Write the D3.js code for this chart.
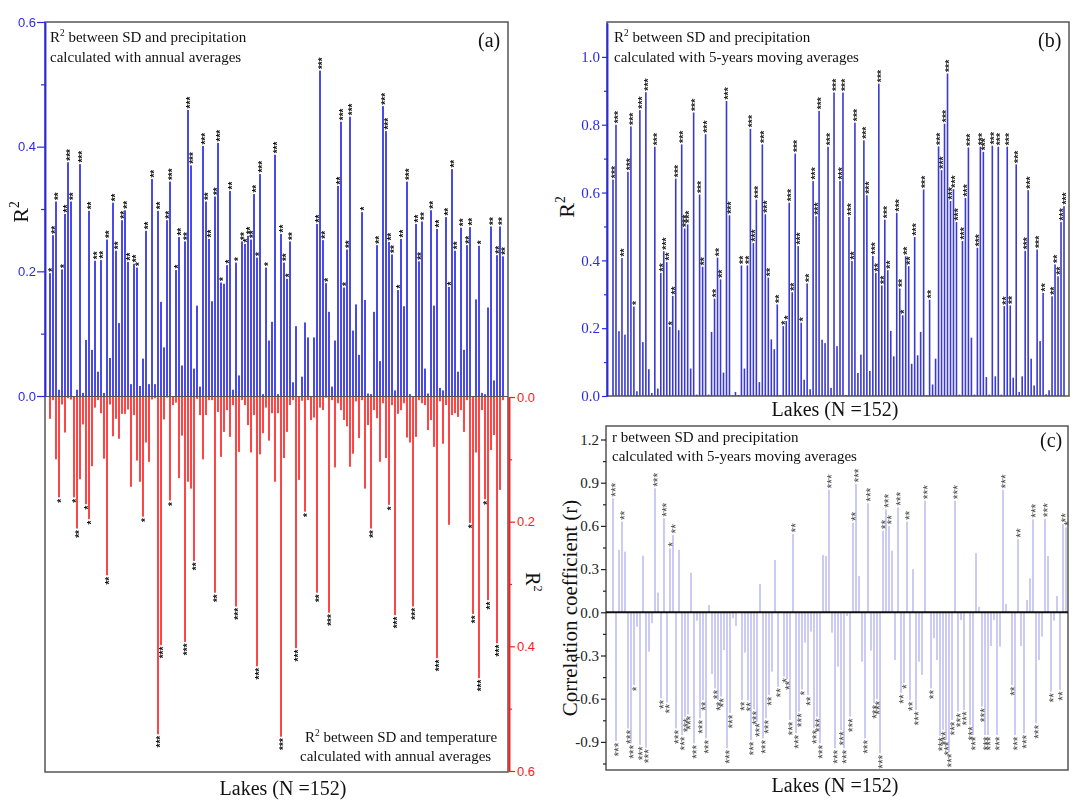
<!DOCTYPE html>
<html><head><meta charset="utf-8">
<script src="https://cdn.jsdelivr.net/npm/d3@7"></script>
<style>body{margin:0;background:#fff} .stars{opacity:0.99; will-change:transform}</style>
</head><body>
<svg id="chart" width="1083" height="804"></svg>
<script>
// ---------------- DATA ----------------
const lakeIds = d3.range(1, 153); // 152 lakes

// (a) top: R2 SD vs precipitation, annual averages
const precipAnnual = [
0.197,0.258,0.312,0.01,0.203,0.292,0.375,0.312,0,0.01,
0.372,0.005,0.09,0.297,0.074,0.217,0.039,0.218,0.005,0.251,
0.061,0.31,0.233,0.117,0.282,0.298,0.215,0.019,0.212,0.206,
0.016,0.06,0.265,0.019,0.348,0.019,0.297,0.151,0.078,0.282,
0.344,0,0.202,0.255,0.049,0.248,0.459,0.37,0.044,0.145,
0.015,0.401,0.312,0.252,0.152,0.32,0.406,0.182,0.18,0.21,
0.329,0.01,0.214,0.033,0.248,0.244,0.257,0.251,0.324,0.222,
0.356,0.003,0.206,0.089,0.119,0.387,0.003,0.26,0.214,0.188,
0.248,0.022,0.112,0,0.031,0.118,0.094,0,0.094,0.276,
0.522,0.25,0.181,0.135,0.015,0.089,0.337,0.44,0.174,0.235,
0.448,0.105,0.147,0.066,0.295,0.154,0.004,0.003,0.135,0.242,
0.056,0.465,0.425,0.247,0.227,0.009,0.17,0.252,0.144,0.344,
0.003,0,0.276,0.216,0.28,0.044,0.004,0.298,0.145,0.268,
0.013,0.009,0.287,0.175,0.364,0.233,0.039,0.27,0.074,0.242,
0.271,0,0.155,0.241,0.005,0.003,0.142,0.272,0.025,0.226,
0.272,0.224];
const precipAnnualSig = [
1,2,2,0,1,2,3,2,0,0, 3,0,0,2,0,2,0,2,0,2, 0,2,2,0,2,2,2,0,2,1,
0,0,2,0,2,0,2,0,0,2, 3,0,1,2,0,2,3,3,0,0, 0,3,2,2,0,2,3,1,0,1,
2,0,1,0,2,1,2,2,2,1, 3,0,1,0,0,3,0,2,2,1, 2,0,0,0,0,0,0,0,0,2,
3,2,1,0,0,0,2,3,1,2, 3,0,0,0,1,0,0,0,0,2, 0,3,3,2,2,0,1,2,0,3,
0,0,2,2,2,0,0,2,0,2, 0,0,2,1,2,2,0,2,0,2, 2,0,0,1,0,0,0,2,0,2,
2,2];

// (a) bottom: R2 SD vs temperature, annual averages
const tempAnnual = [
0.035,0.005,0.1,0.161,0.012,0.057,0.002,0.004,0.161,0.211,
0.132,0.044,0.172,0.196,0.111,0.017,0.005,0.026,0.099,0.286,
0.012,0.063,0.035,0.067,0.027,0.027,0.02,0.144,0.029,0.102,
0.136,0.192,0.073,0.104,0.004,0.002,0.541,0.398,0.036,0.001,
0.166,0.013,0.009,0.13,0.062,0.393,0.136,0.147,0.263,0.003,
0.029,0.1,0.029,0.005,0.005,0.314,0.024,0.096,0.056,0.021,
0.064,0.013,0.336,0.088,0.005,0.013,0.045,0.089,0.029,0.432,
0.092,0.058,0.017,0.07,0.026,0.136,0.026,0.545,0.098,0.056,
0.013,0.005,0.403,0.133,0.006,0.184,0.005,0.037,0.033,0.314,
0.017,0.021,0.001,0.346,0.005,0.113,0.01,0.021,0.037,0.047,
0.112,0.091,0.007,0.066,0.005,0.147,0.045,0.211,0.021,0.034,
0.104,0.01,0.098,0.173,0.013,0.35,0.027,0.021,0.01,0.065,
0.073,0.336,0.064,0.005,0.01,0.013,0.053,0.037,0.08,0.419,
0.007,0.075,0.013,0.205,0.029,0.026,0.032,0.021,0.056,0.005,
0.202,0.348,0.089,0.451,0.021,0.164,0.326,0.085,0.061,0.395,
0.149,0.005];
const tempAnnualSig = [
0,0,0,1,0,0,0,0,1,2, 0,0,1,1,0,0,0,0,0,2, 0,0,0,0,0,0,0,0,0,0,
0,1,0,0,0,0,3,3,0,0, 1,0,0,0,0,3,0,0,2,0, 0,0,0,0,0,2,0,0,0,0,
0,0,3,0,0,0,0,0,0,3, 0,0,0,0,0,0,0,3,0,0, 0,0,3,0,0,1,0,0,0,2,
0,0,0,3,0,0,0,0,0,0, 0,0,0,0,0,0,0,2,0,0, 0,0,0,1,0,3,0,0,0,0,
0,3,0,0,0,0,0,0,0,3, 0,0,0,0,0,0,0,0,0,0, 1,2,0,3,0,1,2,0,0,3,
0,0];

// (b) R2 SD vs precipitation, 5-year moving averages
const precipMoving = [
0.638,0.8,0.191,0.407,0.181,0.661,0.795,0.264,0.014,0.843,
0.159,0.896,0.079,0.009,0.735,0.022,0.363,0.427,0.395,0.204,
0.295,0.641,0.194,0.742,0.494,0.506,0.081,0.836,0.004,0.594,
0.381,0.772,0.004,0.189,0.287,0.408,0.344,0.069,0.87,0.533,
0.002,0.012,0.003,0.385,0.081,0.385,0.788,0.451,0.579,0.041,
0.742,0.536,0.349,0.167,0.138,0.27,0.003,0.206,0.221,0.57,
0.306,0.715,0.442,0.216,0.048,0.332,0.02,0.634,0.53,0.841,
0.166,0.156,0.735,0.024,0.895,0.147,0.634,0.895,0.003,0.528,
0.398,0.806,0.068,0.122,0.754,0.592,0.074,0.413,0.363,0.921,
0.326,0.52,0.371,0.192,0.117,0.54,0.317,0.238,0.412,0.383,
0.095,0.469,0.12,0.189,0.609,0.002,0.284,0.034,0.11,0.736,
0.666,0.803,0.951,0.575,0.61,0.513,0.004,0.457,0.584,0.733,
0.172,0.004,0.437,0.735,0.72,0.056,0.004,0.738,0.058,0.735,
0.004,0.265,0.735,0.267,0.054,0.683,0.012,0.058,0.428,0.607,
0.11,0.031,0.432,0.162,0.304,0.005,0.017,0.294,0.388,0.353,
0.513,0.56];
const precipMovingSig = [
3,3,0,2,0,3,3,1,0,3, 0,3,0,0,3,0,2,3,2,1, 2,3,0,3,3,3,0,3,0,3,
2,3,0,0,2,2,2,0,3,3, 0,0,0,2,0,2,3,3,3,0, 3,3,2,0,0,2,0,1,1,3,
2,3,3,1,0,2,0,3,3,3, 0,0,3,0,3,0,3,3,0,3, 2,3,0,0,3,3,0,3,2,3,
2,3,2,0,0,3,2,1,2,2, 0,3,0,0,3,0,2,0,0,3, 3,3,3,3,3,3,0,3,3,3,
0,0,3,3,3,0,0,3,0,3, 0,2,3,2,0,3,0,0,3,3, 0,0,3,0,2,0,0,2,2,2,
3,3];

// (c) r SD vs precipitation, 5-year moving averages
const corrMoving = [
0.792,-0.894,0.433,0.63,0.421,-0.806,-0.91,-0.505,-0.1,-0.92,
0.393,-0.94,-0.273,-0.076,0.861,0.137,-0.597,0.653,-0.627,0.444,
0.537,-0.806,0.433,-0.852,-0.725,-0.708,0.275,-0.91,-0.058,-0.736,
-0.609,-0.875,0.05,-0.428,-0.528,-0.609,-0.585,-0.262,-0.944,-0.7,
-0.042,-0.095,0.005,-0.609,-0.28,-0.613,-0.887,-0.674,-0.759,0.197,
-0.875,-0.736,-0.574,-0.412,0.363,-0.516,0.005,-0.447,-0.465,-0.748,
0.544,-0.84,-0.69,-0.535,-0.21,-0.574,-0.134,-0.806,-0.725,-0.91,
0.398,0.391,0.85,-0.141,-0.944,-0.377,-0.817,-0.944,-0.025,-0.725,
0.623,0.891,0.252,-0.343,-0.875,0.757,-0.266,-0.632,-0.604,-0.979,
0.567,0.715,0.6,0.428,-0.331,0.729,-0.56,-0.49,0.63,-0.61,
0.3,-0.678,-0.343,-0.435,0.775,0.005,-0.528,-0.18,-0.331,-0.858,
-0.816,-0.887,-0.97,-0.748,0.775,-0.69,-0.053,-0.678,0.005,-0.782,
-0.852,0.41,0.039,-0.655,-0.852,-0.852,-0.234,-0.053,-0.852,-0.238,
0.85,0.058,0.005,-0.505,-0.852,0.507,-0.234,-0.84,0.086,0.236,
0.646,-0.771,-0.331,-0.169,0.65,0.391,-0.551,-0.058,0.113,-0.539,
0.613,0.59];
const corrMovingSig = [
3,3,0,2,0,3,3,1,0,3, 0,3,0,0,3,0,2,3,2,1, 2,3,0,3,3,3,0,3,0,3,
2,3,0,0,2,2,2,0,3,3, 0,0,0,2,0,2,3,3,3,0, 3,3,2,0,0,2,0,1,2,3,
2,3,3,1,0,2,0,3,3,3, 0,0,3,0,3,0,3,3,0,3, 2,3,0,0,3,3,0,3,3,3,
2,3,2,0,0,3,2,1,2,2, 0,3,0,0,3,0,2,0,0,3, 3,3,3,3,3,3,0,3,0,3,
3,0,0,3,3,3,0,0,3,0, 3,0,0,2,3,2,0,3,0,0, 3,3,0,0,3,0,2,0,0,2,
2,1];

// tick values
const ticksR2a = [0, 0.2, 0.4, 0.6];
const minorR2a = [0.1, 0.3, 0.5];
const ticksR2b = [0, 0.2, 0.4, 0.6, 0.8, 1.0];
const minorR2b = [0.1, 0.3, 0.5, 0.7, 0.9];
const ticksR = [-0.9, -0.6, -0.3, 0, 0.3, 0.6, 0.9, 1.2];
const minorR = [-1.05, -0.75, -0.45, -0.15, 0.15, 0.45, 0.75, 1.05];

// ---------------- DRAW ----------------
const SERIF = "'Liberation Serif','Times New Roman',serif";
const SANS = "'Liberation Sans',Arial,sans-serif";
const svg = d3.select("#chart");
const fmt1 = d => d.toFixed(1);

function frame(x0, y0, x1, y1) {
  svg.append("rect").attr("x", x0).attr("y", y0).attr("width", x1 - x0).attr("height", y1 - y0)
    .attr("fill", "none").attr("stroke", "#555").attr("stroke-width", 1.5);
}
function drawBars(values, x, y, color, width) {
  svg.append("g").selectAll("rect").data(values).join("rect")
    .attr("x", (d, i) => x(lakeIds[i]) - width / 2)
    .attr("y", d => Math.min(y(d), y(0)))
    .attr("width", width)
    .attr("height", d => Math.abs(y(d) - y(0)))
    .attr("fill", color);
}
function drawStars(values, sig, x, y, outwardUp, size, color, weight) {
  const items = values.map((v, i) => ({ v, n: sig[i], id: lakeIds[i] })).filter(d => d.n > 0);
  svg.append("g").attr("class", "stars").selectAll("text").data(items).join("text")
    .attr("transform", d => {
      const up = outwardUp(d.v);
      return `translate(${x(d.id)},${y(d.v) + (up ? -1.5 : 1.5)}) rotate(-90)`;
    })
    .attr("text-anchor", d => outwardUp(d.v) ? "start" : "end")
    .attr("dy", "0.55em")
    .style("font-family", SANS).style("font-size", size + "px").style("font-weight", weight || "normal")
    .attr("fill", color)
    .text(d => "*".repeat(d.n));
}
function styleAxis(g, color, font, size) {
  g.select(".domain").attr("stroke", color).attr("stroke-width", 1.5);
  g.selectAll(".tick line").attr("stroke", color).attr("stroke-width", 1.2);
  g.selectAll(".tick text").attr("fill", color).style("font-family", font).style("font-size", size + "px");
}
function r2Label(sel, rest, size) {
  sel.append("tspan").text("R");
  sel.append("tspan").attr("dy", -size * 0.4).attr("font-size", size * 0.62).text("2");
  sel.append("tspan").attr("dy", size * 0.4).text(rest);
}
function txt(x, y, size, anchor, rot) {
  const t = svg.append("text").attr("text-anchor", anchor || "start")
    .style("font-family", SERIF).style("font-size", size + "px").attr("fill", "#111");
  if (rot) t.attr("transform", `translate(${x},${y}) rotate(${rot})`);
  else t.attr("x", x).attr("y", y);
  return t;
}

// ===== Panel (a) =====
const xa = d3.scalePoint().domain(lakeIds).range([50, 503]);
const yaTop = d3.scaleLinear().domain([0, 0.6]).range([396, 22]);
const yaBot = d3.scaleLinear().domain([0, 0.6]).range([397, 771]);
frame(45, 22, 508, 772);
svg.append("line").attr("x1", 45).attr("x2", 508).attr("y1", 396.5).attr("y2", 396.5)
  .attr("stroke", "#555").attr("stroke-width", 1.2);
drawBars(precipAnnual, xa, yaTop, "#1f1fe0", 1.6);
drawBars(tempAnnual, xa, yaBot, "#ff1a1a", 1.6);
drawStars(precipAnnual, precipAnnualSig, xa, yaTop, () => true, 10, "#111", "bold");
drawStars(tempAnnual, tempAnnualSig, xa, yaBot, () => false, 10, "#111", "bold");

let g = svg.append("g").attr("transform", "translate(45,0)")
  .call(d3.axisLeft(yaTop).tickValues(ticksR2a).tickFormat(fmt1).tickSize(8).tickSizeOuter(0).tickPadding(1));
styleAxis(g, "#2a2ae6", SANS, 13);
g = svg.append("g").attr("transform", "translate(45,0)")
  .call(d3.axisLeft(yaTop).tickValues(minorR2a).tickFormat("").tickSize(4).tickSizeOuter(0));
styleAxis(g, "#2a2ae6", SANS, 13);
g = svg.append("g").attr("transform", "translate(509,0)")
  .call(d3.axisRight(yaBot).tickValues(ticksR2a).tickFormat(fmt1).tickSize(6).tickSizeOuter(0).tickPadding(2));
styleAxis(g, "#ff1a1a", SANS, 13);
g = svg.append("g").attr("transform", "translate(509,0)")
  .call(d3.axisRight(yaBot).tickValues(minorR2a).tickFormat("").tickSize(3).tickSizeOuter(0));
styleAxis(g, "#ff1a1a", SANS, 13);

r2Label(txt(50, 42, 15), " between SD and precipitation", 15);
txt(50, 62, 15).text("calculated with annual averages");
txt(478, 47, 20).text("(a)");
r2Label(txt(305, 742, 15), " between SD and temperature", 15);
txt(300, 761, 15).text("calculated with annual averages");
txt(283, 795, 20, "middle").text("Lakes (N =152)");
r2Label(txt(28, 212, 22, "middle", -90), "", 22);
r2Label(txt(526, 582, 20, "middle", 90), "", 20);

// ===== Panel (b) =====
const xb = d3.scalePoint().domain(lakeIds).range([613, 1064]);
const yb = d3.scaleLinear().domain([0, 1.1]).range([396, 23]);
frame(607, 22, 1069, 396);
drawBars(precipMoving, xb, yb, "#3a3ad2", 1.6);
drawStars(precipMoving, precipMovingSig, xb, yb, () => true, 10.5, "#222", "bold");
g = svg.append("g").attr("transform", "translate(607,0)")
  .call(d3.axisLeft(yb).tickValues(ticksR2b).tickFormat(fmt1).tickSize(5).tickSizeOuter(0).tickPadding(2));
styleAxis(g, "#2a2ae6", SERIF, 15);
g = svg.append("g").attr("transform", "translate(607,0)")
  .call(d3.axisLeft(yb).tickValues(minorR2b).tickFormat("").tickSize(3).tickSizeOuter(0));
styleAxis(g, "#2a2ae6", SERIF, 15);
r2Label(txt(614, 42, 15), " between SD and precipitation", 15);
txt(614, 62, 15).text("calculated with 5-years moving averages");
txt(1038, 47, 20).text("(b)");
txt(835, 416, 20, "middle").text("Lakes (N =152)");
r2Label(txt(574, 207, 22, "middle", -90), "", 22);

// ===== Panel (c) =====
const xc = d3.scalePoint().domain(lakeIds).range([613, 1066]);
const yc = d3.scaleLinear().domain([0, 1.2]).range([612.3, 439.5]);
frame(606, 426, 1068, 770);
drawBars(corrMoving, xc, yc, "#a9a9ec", 1.2);
svg.append("line").attr("x1", 606).attr("x2", 1068).attr("y1", yc(0)).attr("y2", yc(0))
  .attr("stroke", "#111").attr("stroke-width", 2);
drawStars(corrMoving, corrMovingSig, xc, yc, v => v >= 0, 12, "#444");
g = svg.append("g").attr("transform", "translate(606,0)")
  .call(d3.axisLeft(yc).tickValues(ticksR).tickFormat(fmt1).tickSize(5).tickSizeOuter(0).tickPadding(2));
styleAxis(g, "#222", SERIF, 15);
g.select(".domain").remove();
g = svg.append("g").attr("transform", "translate(606,0)")
  .call(d3.axisLeft(yc).tickValues(minorR).tickFormat("").tickSize(3).tickSizeOuter(0));
styleAxis(g, "#222", SERIF, 15);
g.select(".domain").remove();
txt(612, 442, 15).text("r between SD and precipitation");
txt(612, 461, 15).text("calculated with 5-years moving averages");
txt(1040, 447, 20).text("(c)");
txt(835, 792, 20, "middle").text("Lakes (N =152)");
txt(577, 608, 21, "middle", -90).text("Correlation coefficient (r)");
</script>
</body></html>
